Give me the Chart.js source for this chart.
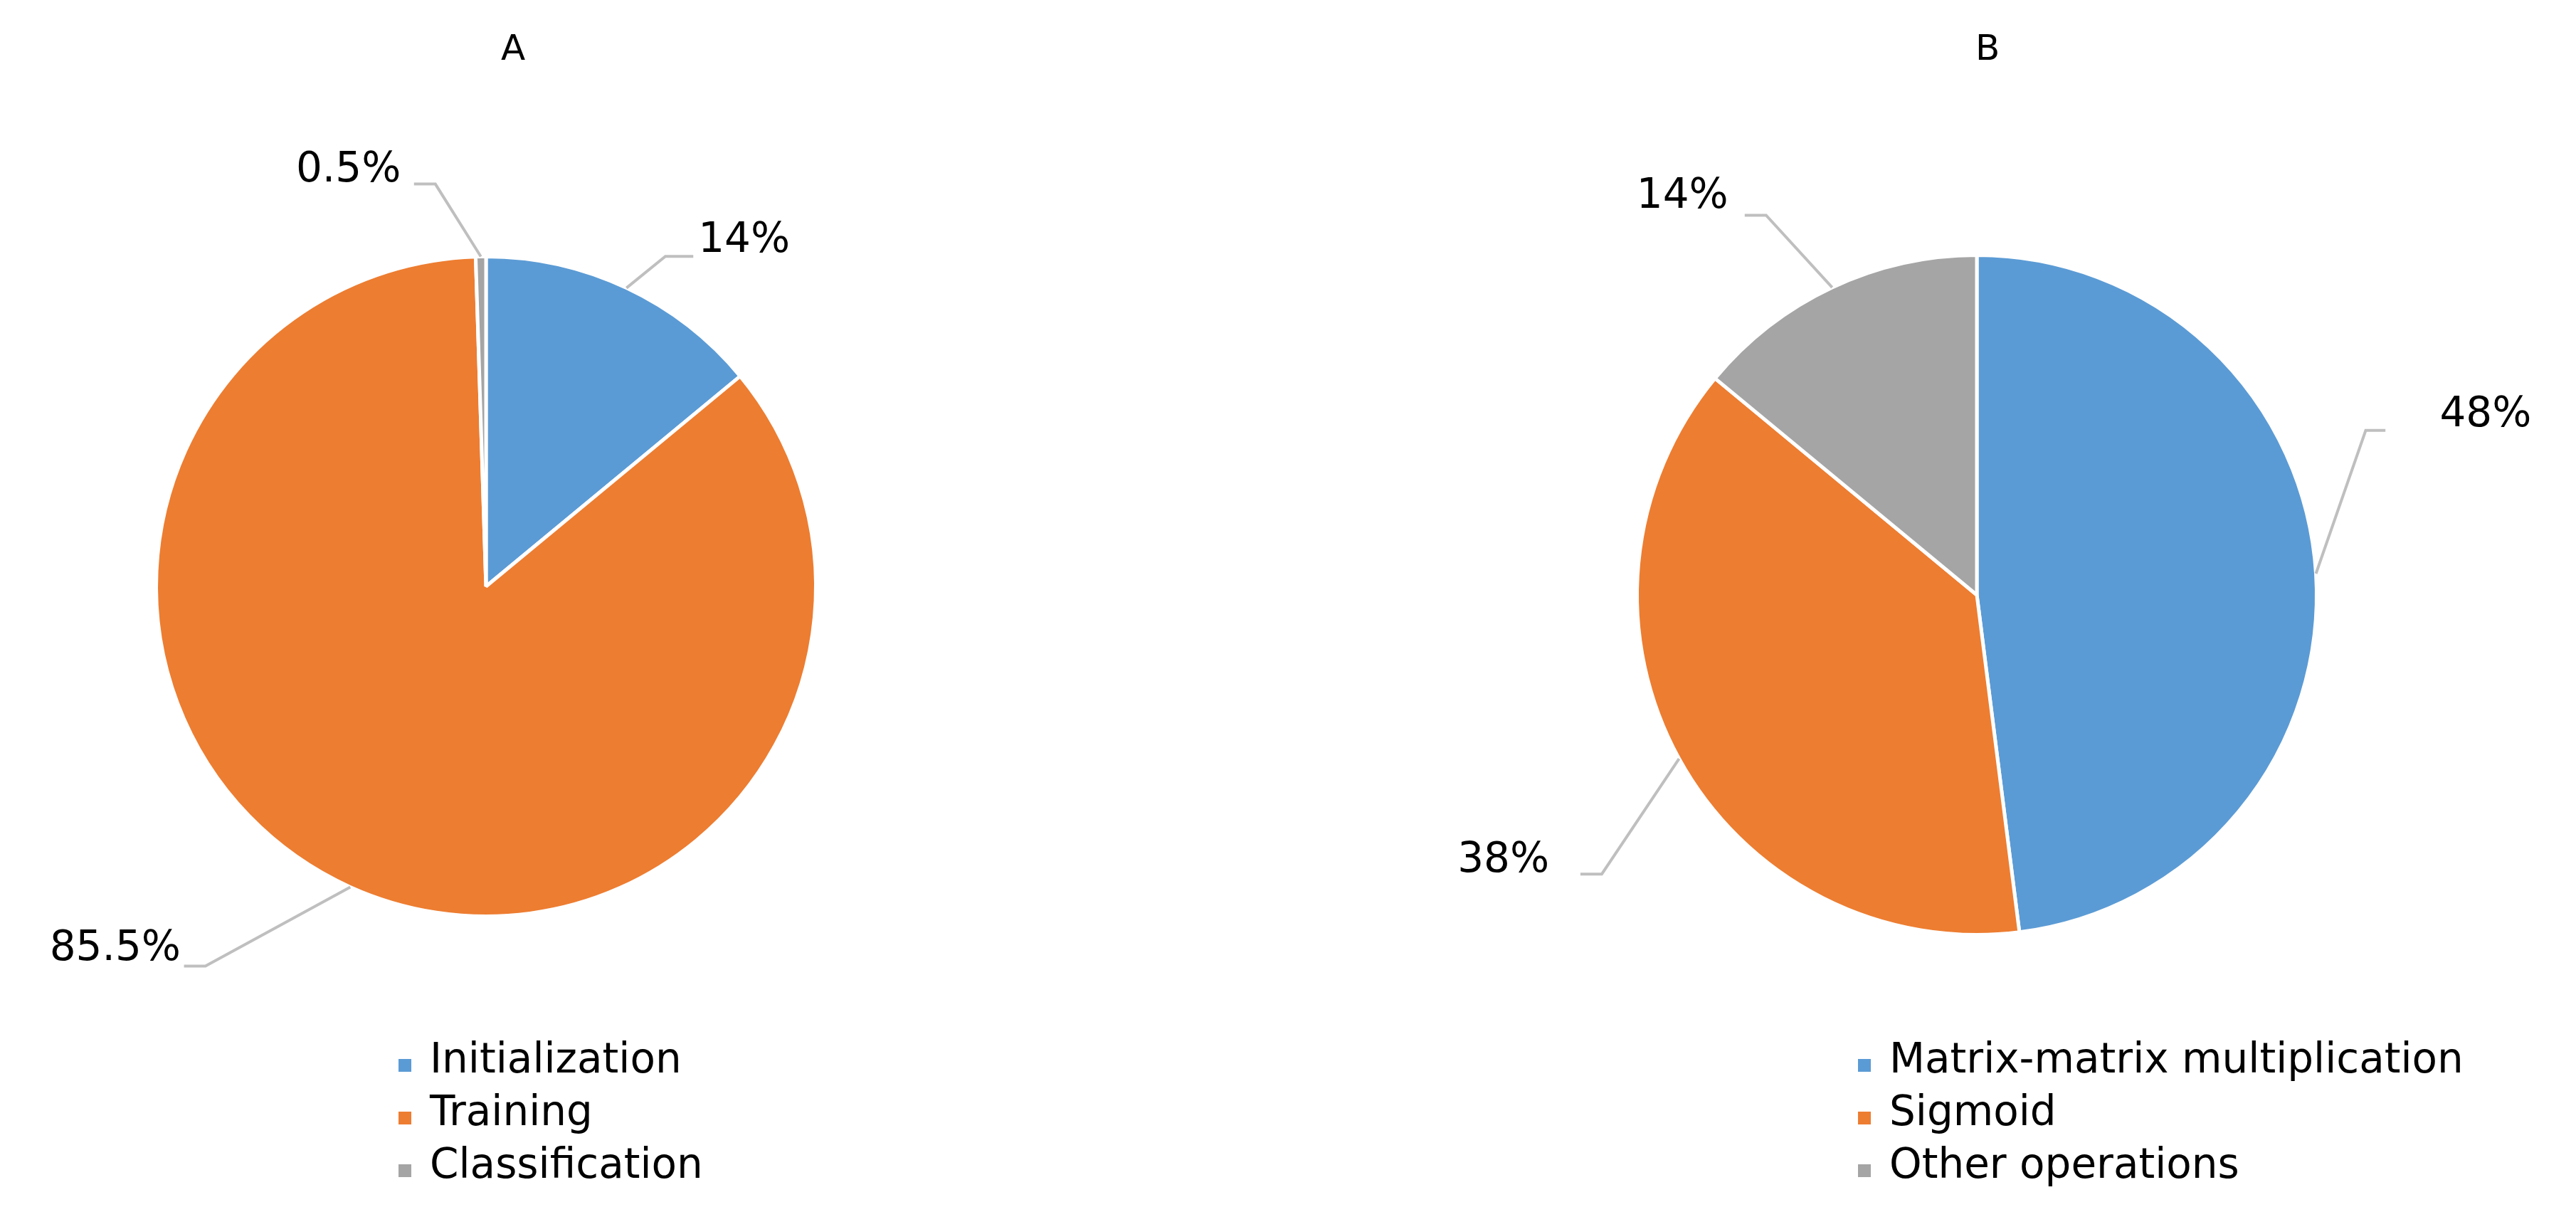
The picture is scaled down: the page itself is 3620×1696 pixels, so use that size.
<!DOCTYPE html>
<html><head><meta charset="utf-8">
<script src="https://cdn.jsdelivr.net/npm/chart.js@4"></script>
<style>
body{margin:0;background:#fff;width:3620px;height:1696px;position:relative;overflow:hidden;font-family:"DejaVu Sans",Verdana,sans-serif}
.wrap{position:absolute;top:0;width:1810px;height:1696px}
.title{position:absolute;top:38px;font-size:50px;color:#000}
.legend{position:absolute;font-size:58px;color:#000;line-height:74px}
.legend div{position:relative;padding-left:44px;white-space:nowrap}
.legend span{position:absolute;left:0;top:38px;width:18px;height:18px}
</style></head><body>
<div class="wrap" style="left:0"><canvas id="cA" width="1810" height="1696"></canvas></div>
<div class="wrap" style="left:1810px"><canvas id="cB" width="1810" height="1696"></canvas></div>
<div class="title" style="left:704px">A</div>
<div class="title" style="left:2776px">B</div>
<div class="legend" id="lA" style="left:560px;top:1450px"></div>
<div class="legend" id="lB" style="left:2611px;top:1450px"></div>
<script>
const catsA=["Initialization","Training","Classification"];
const valsA=[14,85.5,0.5];
const labelsA=["14%","85.5%","0.5%"];
const catsB=["Matrix-matrix multiplication","Sigmoid","Other operations"];
const valsB=[48,38,14];
const labelsB=["48%","38%","14%"];
const colors=["#5B9BD5","#ED7D31","#A5A5A5"];
const S=3620/1568;
// leader geometry in reference display pixels: elbow, line end, label anchor
const leadA=[{e:[405,156],t:[422,156],l:[425,147],al:"left"},{e:[125,588],t:[112,588],l:[110,578],al:"right"},{e:[265,112],t:[252,112],l:[244,104],al:"right"}];
const leadB=[{e:[1440,262],t:[1452,262],l:[1485,253],al:"left"},{e:[975,532],t:[962,532],l:[943,524],al:"right"},{e:[1075,131],t:[1062,131],l:[1052,120],al:"right"}];
function mk(id,cats,vals,labs,lead,off,pad){
 const plug={id:'lead'+id,afterDatasetsDraw(ch){
  const c=ch.ctx,m=ch.getDatasetMeta(0);
  c.save();c.strokeStyle="#BFBFBF";c.lineWidth=4;c.font="58px 'DejaVu Sans'";c.fillStyle="#000";c.textBaseline="middle";
  m.data.forEach((a,i)=>{const p=a.getProps(['x','y','startAngle','endAngle','outerRadius']);
   const mid=(p.startAngle+p.endAngle)/2;const L=lead[i];
   const x0=p.x+Math.cos(mid)*p.outerRadius,y0=p.y+Math.sin(mid)*p.outerRadius;
   c.beginPath();c.moveTo(x0,y0);c.lineTo(L.e[0]*S-off,L.e[1]*S);c.lineTo(L.t[0]*S-off,L.t[1]*S);c.stroke();
   c.textAlign=L.al;c.fillText(labs[i],L.l[0]*S-off,L.l[1]*S);});
  c.restore();}};
 new Chart(document.getElementById(id),{type:'pie',data:{labels:cats,datasets:[{data:vals,backgroundColor:colors,borderColor:"#fff",borderWidth:5}]},
  options:{responsive:false,animation:false,layout:{padding:pad},plugins:{legend:{display:false},tooltip:{enabled:false}}},plugins:[plug]});
}
mk('cA',catsA,valsA,labelsA,leadA,0,{left:217,right:661,top:358,bottom:406});
mk('cB',catsB,valsB,labelsB,leadB,1810,{left:488,right:362,top:356,bottom:380});
function leg(id,cats){document.getElementById(id).innerHTML=cats.map((c,i)=>`<div><span style="background:${colors[i]}"></span>${c}</div>`).join('');}
leg('lA',catsA);leg('lB',catsB);
</script></body></html>
